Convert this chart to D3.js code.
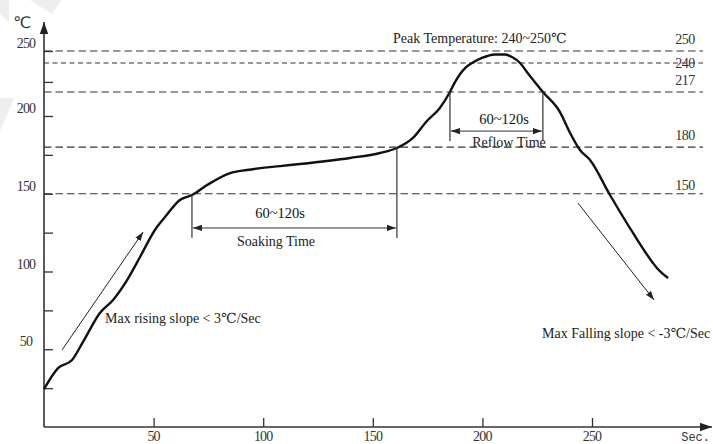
<!DOCTYPE html>
<html><head><meta charset="utf-8">
<script src="https://cdn.jsdelivr.net/npm/d3@7"></script>
<style>
body{margin:0;background:#fff}svg{display:block}
.serif{font-family:"Liberation Serif","Tinos","DejaVu Serif",serif}
</style>
</head><body>
<svg id="c" width="713" height="444"></svg>
<script>
// ---- data ----
const timeSec = [0,6.4,12.8,17.8,25.5,31.5,37.9,43.8,50.6,55.2,62.0,67.5,74.4,84.9,92.6,107.7,116.8,139.6,153.3,161.0,168.3,174.5,180.5,185.2,187.5,192.1,195.3,199.8,205.7,210.3,213.5,217.2,220.3,223.9,227.6,235.4,240.0,244.5,249.1,258.2,268.7,277.8,279.6,284.7];
const tempC   = [24.4,37.9,43.1,54.7,73.3,81.7,94.5,109.3,126.7,135.0,146.0,149.2,155.6,163.3,165.3,167.8,169.1,173.0,176.2,179.4,185.9,196.5,205.5,217,224.9,236.0,240,244.2,247.1,247.1,245,240,232.9,224.9,217,202.8,189.1,178.1,171.7,149.2,124.8,105.5,102.3,95.8];
const xTicks = [50,100,150,200,250];
const yTicks = [25,50,75,100,125,150,175,200,225,250];
const yLabels = [50,100,150,200,250];
const refLines = [250,240,217,180,150];
const soakWindow = [67.5,161.0];
const reflowWindow = [185.2,227.6];
const soakLabels = ["60~120s","Soaking Time"];
const reflowLabels = ["60~120s","Reflow Time"];
const peakLabel = "Peak Temperature: 240~250℃";
const riseLabel = "Max rising slope < 3℃/Sec";
const fallLabel = "Max Falling slope < -3℃/Sec";
const riseArrow = [[8.2,49.5],[45.2,125.4]];
const fallArrow = [[243.6,144],[278.3,81.7]];

// ---- scales ----
const x = d3.scaleLinear().domain([0,250]).range([44,592]);
const y = d3.scaleLinear().domain([0,200,217,240,250]).range([427,116,92,63,51]);

const svg = d3.select("#c");
const defs = svg.append("defs");
function marker(id, size){
  defs.append("marker").attr("id",id).attr("viewBox","0 0 10 10").attr("refX",10).attr("refY",5)
    .attr("markerWidth",size).attr("markerHeight",size).attr("orient","auto-start-reverse")
    .attr("markerUnits","userSpaceOnUse")
    .append("path").attr("d","M0,1.5 L10,5 L0,8.5 Z").attr("fill","#222");
}
marker("ah",9);
marker("big",12);

// faint watermark shapes
const wm = svg.append("g").attr("fill","#eeeeee");
wm.append("path").attr("d","M0,0 L9,0 L9,22 L0,14 Z");
wm.append("path").attr("d","M30,0 L62,0 L52,14 Z");
wm.append("path").attr("d","M0,98 L14,98 L0,132 Z");

// reference dashed lines
svg.append("g").selectAll("line").data(refLines).join("line")
  .attr("x1",x(0)).attr("x2",703).attr("y1",d=>y(d)).attr("y2",d=>y(d))
  .attr("stroke","#333").attr("stroke-width",1.1)
  .attr("stroke-dasharray",d=>d===240?"5,3.5":"7.5,4");

svg.append("g").selectAll("text").data(refLines).join("text").attr("class","serif")
  .attr("x",685).attr("y",d=>y(d)+(d===240?5:(d===150?-4:-7)))
  .attr("text-anchor","middle").attr("font-size",14)
  .attr("fill","#333").attr("letter-spacing",-0.5).text(d=>d);

// axes
const gy = svg.append("g").attr("transform",`translate(${x(0)},0)`)
  .call(d3.axisLeft(y).tickValues(yTicks).tickSize(-9).tickFormat(""));
gy.select(".domain").remove();
gy.selectAll(".tick line").attr("stroke","#333").attr("stroke-width",1.3);
const gx = svg.append("g").attr("transform",`translate(0,${y(0)})`)
  .call(d3.axisTop(x).tickValues(xTicks).tickSize(9).tickFormat(""));
gx.select(".domain").remove();
gx.selectAll(".tick line").attr("stroke","#333").attr("stroke-width",1.3);

svg.append("line").attr("x1",x(0)).attr("x2",x(0)).attr("y1",y(0)).attr("y2",22)
  .attr("stroke","#333").attr("stroke-width",1.6).attr("marker-end","url(#big)");
svg.append("line").attr("x1",x(0)).attr("x2",712).attr("y1",y(0)).attr("y2",y(0))
  .attr("stroke","#333").attr("stroke-width",1.6).attr("marker-end","url(#big)");

svg.append("g").selectAll("text").data(yLabels).join("text").attr("class","serif")
  .attr("x",26).attr("y",d=>y(d)-3).attr("text-anchor","middle")
  .attr("font-size",14).attr("fill","#333").attr("letter-spacing",-0.8).text(d=>d);
svg.append("g").selectAll("text").data(xTicks).join("text").attr("class","serif")
  .attr("x",d=>x(d)).attr("y",441).attr("text-anchor","middle")
  .attr("font-size",14).attr("fill","#333").attr("letter-spacing",-0.8).text(d=>d);
svg.append("text").attr("x",22).attr("y",28).attr("text-anchor","middle")
  .attr("font-family","'DejaVu Sans',sans-serif").attr("font-size",16).attr("fill","#333").text("℃");
svg.append("text").attr("x",710).attr("y",441).attr("text-anchor","end")
  .attr("font-family","'Liberation Mono',monospace").attr("font-size",12).attr("fill","#333").text("Sec.");

// profile curve
const pts = timeSec.map((t,i)=>[t,tempC[i]]);
svg.append("path").datum(pts)
  .attr("d",d3.line().x(d=>x(d[0])).y(d=>y(d[1])).curve(d3.curveMonotoneX))
  .attr("fill","none").attr("stroke","#111").attr("stroke-width",2.4).attr("stroke-linejoin","round");

// windows
const ann = svg.append("g").attr("stroke","#333").attr("stroke-width",1.2);
function windowMark(win, topL, topR, lowT, arrowT, labels, lx, ly1, ly2){
  ann.append("line").attr("x1",x(win[0])).attr("x2",x(win[0])).attr("y1",y(topL)).attr("y2",y(lowT));
  ann.append("line").attr("x1",x(win[1])).attr("x2",x(win[1])).attr("y1",y(topR)).attr("y2",y(lowT));
  ann.append("line").attr("x1",x(win[0])+1).attr("x2",x(win[1])-1).attr("y1",y(arrowT)).attr("y2",y(arrowT))
    .attr("stroke-width",1).attr("marker-start","url(#ah)").attr("marker-end","url(#ah)");
  svg.append("text").attr("class","serif").attr("x",lx[0]).attr("y",ly1).attr("text-anchor","middle")
    .attr("font-size",14.5).attr("fill","#111").text(labels[0]);
  svg.append("text").attr("class","serif").attr("x",lx[1]).attr("y",ly2).attr("text-anchor","middle")
    .attr("font-size",14).attr("fill","#222").text(labels[1]);
}
windowMark(soakWindow,150,180,121.5,128,soakLabels,[280,276],218,246);
windowMark(reflowWindow,217,217,184,190.3,reflowLabels,[504,509],124,147);

// slope arrows
[riseArrow,fallArrow].forEach(a=>{
  svg.append("line").attr("x1",x(a[0][0])).attr("y1",y(a[0][1])).attr("x2",x(a[1][0])).attr("y2",y(a[1][1]))
    .attr("stroke","#222").attr("stroke-width",1).attr("marker-end","url(#ah)");
});

svg.append("text").attr("class","serif").attr("x",393).attr("y",43).attr("font-size",14).attr("fill","#222").text(peakLabel);
svg.append("text").attr("class","serif").attr("x",105).attr("y",323).attr("font-size",14).attr("fill","#222").text(riseLabel);
svg.append("text").attr("class","serif").attr("x",542).attr("y",338).attr("font-size",14).attr("fill","#222").text(fallLabel);
</script>
</body></html>
